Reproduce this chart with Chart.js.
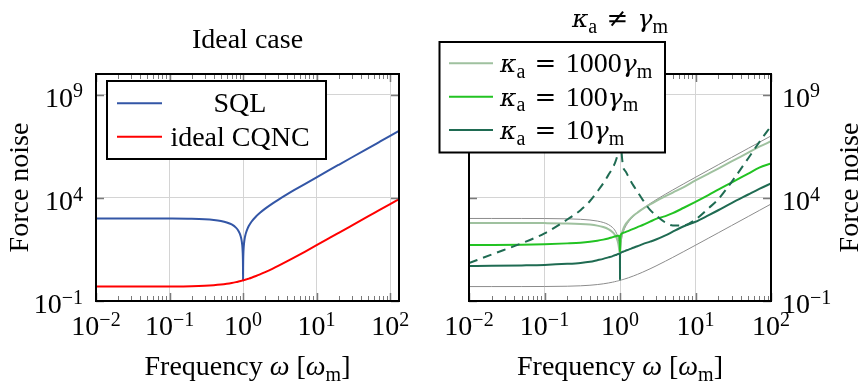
<!DOCTYPE html>
<html>
<head>
<meta charset="utf-8">
<script src="https://cdn.jsdelivr.net/npm/chart.js@4.4.0/dist/chart.umd.min.js"></script>
<style>
  html, body { margin: 0; padding: 0; background: #fff; }
  #wrap { position: relative; width: 860px; height: 387px; overflow: hidden; }
  canvas { position: absolute; top: 0; }
  #left { left: 0; }
  #right { left: 430px; }
</style>
</head>
<body>
<div id="wrap">
  <canvas id="left" width="430" height="387"></canvas>
  <canvas id="right" width="430" height="387"></canvas>
</div>
<script>
// frequency in units of omega_m
const freqIdeal = [0.01, 0.02, 0.05, 0.1, 0.2, 0.3, 0.4, 0.5, 0.6, 0.7,
  0.8, 0.85, 0.9, 0.93, 0.95, 0.97, 0.98, 0.99, 0.995, 0.998,
  1, 1.002, 1.005, 1.01, 1.02, 1.03, 1.05, 1.07, 1.1, 1.15,
  1.2, 1.3, 1.5, 1.7, 2, 2.5, 3, 4, 5, 7,
  10, 15, 20, 30, 50, 70, 100, 132];
const freq = [0.01, 0.02, 0.05, 0.1, 0.2, 0.3, 0.4, 0.5, 0.6, 0.7,
  0.8, 0.85, 0.9, 0.93, 0.95, 0.97, 0.98, 0.99, 0.995, 0.998,
  1, 1.002, 1.005, 1.01, 1.02, 1.03, 1.05, 1.07, 1.1, 1.15,
  1.2, 1.3, 1.5, 1.7, 2, 2.5, 3, 4, 5, 7,
  10, 15, 20, 30, 50, 70, 100];

const sqlNoise = [1000, 1000, 997, 990, 960, 910, 840, 750, 640, 510,
  360, 278, 190, 135, 97.5, 59.1, 39.6, 19.9, 10, 4.1,
  1, 4.1, 10, 20.1, 40.4, 60.9, 102.5, 145, 210, 323,
  440, 690, 1250, 1890, 3000, 5250, 8000, 15000, 24000, 48000,
  99000, 224000, 399000, 899000, 2499000, 4899000, 9999000, 17420000];
const cqncNoise = [0.5, 0.5, 0.501, 0.505, 0.52, 0.545, 0.58, 0.625, 0.68, 0.745,
  0.82, 0.861, 0.905, 0.932, 0.951, 0.97, 0.98, 0.99, 0.995, 0.998,
  1.0, 1.002, 1.005, 1.01, 1.02, 1.03, 1.051, 1.072, 1.105, 1.161,
  1.22, 1.345, 1.625, 1.945, 2.5, 3.625, 5, 8.5, 13, 25,
  50.5, 113, 200.5, 450.5, 1250, 2450, 5000, 8712];

const kappa1000 = [600, 600, 598, 594, 576, 546, 504, 450, 384, 306,
  216, 167, 114, 81, 59, 37, 27, 22, 20, 20,
  20, 20, 21, 30, 60, 95, 160, 220, 300, 430,
  560, 800, 1350, 1900, 2900, 4800, 7000, 12000, 18000, 33000,
  70000, 150000, 260000, 580000, 1550000, 3000000, 5500000];
const kappa100 = [52, 52, 53, 56, 62, 67, 74, 83, 94, 107,
  124, 133, 142, 146, 147, 140, 120, 80, 50, 32,
  25, 32, 60, 100, 150, 170, 185, 192, 200, 212,
  225, 250, 310, 380, 480, 700, 950, 1300, 1800, 3300,
  6400, 14000, 25000, 55000, 150000, 290000, 460000];
const kappa10 = [5.0, 5.05, 5.3, 5.6, 6.3, 7.0, 8.0, 9.5, 11, 13,
  15, 16.5, 17.5, 18.5, 19, 19.5, 19.7, 19.8, 19.9, 19.9,
  1.05, 21, 21, 21.2, 21.5, 21.8, 23, 23.8, 24.5, 26,
  28, 31, 38, 45, 57, 75, 95, 150, 230, 420,
  690, 1450, 2500, 5600, 14500, 27000, 50000];
const kappa10Dashed = [6.8, 18, 63, 190, 890, 2500, 7000, 20000, 50000, 126000,
  280000, 450000, 800000, 1300000, 2000000, 4000000, 8000000, 20000000, 50000000, 150000000,
  3000000000, 150000000, 50000000, 20000000, 7000000, 4000000, 1600000, 700000, 320000, 220000,
  180000, 100000, 40000, 20000, 8000, 2600, 1400, 630, 460, 460,
  890, 3200, 8500, 58000, 830000, 5000000, 30000000];

const xTickExp = [-2, -1, 0, 1, 2];
const yTickExp = [-1, 4, 9];

const FONT = '"Liberation Serif", "Times New Roman", serif';
const GREEK = '"DejaVu Serif", serif';
const BIG = 28;
const GRID = '#d4d4d4', TICK = '#7a7a7a';

const pts = (xs, ys) => xs.map((x, i) => ({ x: x, y: ys[i] }));

// draws a run of text pieces: [text, style] with style n / i / g / op / sup / sub
function drawRich(ctx, parts, x, y, align, size) {
  size = size || BIG;
  const small = Math.round(size * 0.72);
  let w = 0;
  const items = parts.map(([t, s]) => {
    let font;
    if (s === 'g') font = 'italic ' + Math.round(size * 0.9) + 'px ' + GREEK;
    else if (s === 'op') font = Math.round(size * 0.92) + 'px ' + GREEK;
    else if (s === 'sup' || s === 'sub') font = small + 'px ' + FONT;
    else font = (s === 'i' ? 'italic ' : '') + size + 'px ' + FONT;
    ctx.font = font;
    const width = ctx.measureText(t).width;
    w += width;
    return { t, font, width, dy: s === 'sup' ? -size * 0.33 : s === 'sub' ? size * 0.2 : 0 };
  });
  let cx = align === 'center' ? x - w / 2 : align === 'right' ? x - w : x;
  ctx.textBaseline = 'alphabetic';
  ctx.textAlign = 'left';
  items.forEach(it => { ctx.font = it.font; ctx.fillText(it.t, cx, y + it.dy); cx += it.width; });
}

const pow = e => [['10', 'n'], [(e < 0 ? '\u2212' + (-e) : '' + e), 'sup']];

function line(ctx, x1, y1, x2, y2) {
  ctx.beginPath(); ctx.moveTo(x1, y1); ctx.lineTo(x2, y2); ctx.stroke();
}

const panelPlugin = {
  id: 'panel',
  afterDatasetsDraw(chart, args, opts) {
    const ctx = chart.ctx, a = chart.chartArea;
    const xs = chart.scales.x, ys = chart.scales.y;
    ctx.save();
    ctx.strokeStyle = TICK;
    for (let e = -2; e <= 2; e++) {
      for (let k = 1; k <= 9; k++) {
        const v = k * Math.pow(10, e);
        if (v < xs.min * 0.999 || v > xs.max * 1.001) continue;
        const px = Math.round(xs.getPixelForValue(v)) + 0.5;
        const len = k === 1 ? 8 : 5;
        ctx.lineWidth = k === 1 ? 1.5 : 1;
        line(ctx, px, a.bottom, px, a.bottom - len);
        line(ctx, px, a.top, px, a.top + len);
      }
    }
    ctx.lineWidth = 1.5;
    yTickExp.forEach(e => {
      const py = Math.round(ys.getPixelForValue(Math.pow(10, e))) + 0.5;
      line(ctx, a.left, py, a.left + 8, py);
      line(ctx, a.right, py, a.right - 8, py);
    });
    ctx.strokeStyle = '#000';
    ctx.lineWidth = 2;
    ctx.strokeRect(a.left, a.top, a.right - a.left, a.bottom - a.top);

    ctx.fillStyle = '#000';
    // x tick labels
    xTickExp.forEach(e => {
      const px = xs.getPixelForValue(Math.pow(10, e));
      drawRich(ctx, pow(e), px, 335, 'center');
    });
    // y tick labels
    yTickExp.forEach(e => {
      const py = ys.getPixelForValue(Math.pow(10, e));
      if (opts.side === 'left') drawRich(ctx, pow(e), a.left - 13, py + 12, 'right');
      else drawRich(ctx, pow(e), a.right + 11, py + 12, 'left');
    });
    // axis titles
    drawRich(ctx, [['Frequency ', 'n'], ['\u03c9', 'i'], [' [', 'n'], ['\u03c9', 'i'], ['m', 'sub'], [']', 'n']],
      (a.left + a.right) / 2, 375, 'center');
    ctx.save();
    ctx.translate(opts.side === 'left' ? 28 : 428, (a.top + a.bottom) / 2);
    ctx.rotate(-Math.PI / 2);
    drawRich(ctx, [['Force noise', 'n']], 0, 0, 'center');
    ctx.restore();
    // panel title
    drawRich(ctx, opts.title, (a.left + a.right) / 2, opts.titleY, 'center');

    // legend
    const lg = opts.legend;
    ctx.fillStyle = '#fff';
    ctx.fillRect(lg.x, lg.y, lg.w, lg.h);
    ctx.strokeStyle = '#000';
    ctx.lineWidth = 2;
    ctx.strokeRect(lg.x, lg.y, lg.w, lg.h);
    lg.items.forEach((it, i) => {
      const ly = lg.firstY + i * 33.4;
      ctx.strokeStyle = it.color;
      ctx.lineWidth = it.width;
      line(ctx, lg.lineX1, ly, lg.lineX2, ly);
      ctx.fillStyle = '#000';
      drawRich(ctx, it.text, lg.textX, ly + 9, lg.align);
    });
    ctx.restore();
  }
};

function logAxis(min, max, ticks, isX) {
  return {
    type: 'logarithmic',
    min: min,
    max: max,
    afterBuildTicks: s => { s.ticks = ticks.map(e => ({ value: Math.pow(10, e) })); },
    afterFit: s => { if (isX) s.height = 0; else s.width = 0; },
    ticks: { display: false },
    grid: { color: GRID, lineWidth: 1, drawTicks: false },
    border: { display: false }
  };
}

function baseOptions(pad, xmax, panel) {
  return {
    responsive: false,
    animation: false,
    devicePixelRatio: 1,
    layout: { padding: pad },
    elements: { point: { radius: 0 }, line: { cubicInterpolationMode: 'monotone' } },
    scales: {
      x: logAxis(0.01, xmax, xTickExp, true),
      y: logAxis(0.1, 1e10, yTickExp, false)
    },
    plugins: { legend: { display: false }, tooltip: { enabled: false }, panel: panel }
  };
}

new Chart(document.getElementById('left'), {
  type: 'line',
  data: {
    datasets: [
      { label: 'SQL', data: pts(freqIdeal, sqlNoise), borderColor: '#3356a6', borderWidth: 2, order: 2 },
      { label: 'ideal CQNC', data: pts(freqIdeal, cqncNoise), borderColor: '#ff0000', borderWidth: 2, order: 1 }
    ]
  },
  options: baseOptions({ left: 96, right: 31, top: 74, bottom: 86 }, 132, {
    side: 'left',
    title: [['Ideal case', 'n']],
    titleY: 48,
    legend: {
      x: 107, y: 81, w: 219, h: 78, firstY: 103.3, lineX1: 117, lineX2: 162, textX: 240, align: 'center',
      items: [
        { color: '#3356a6', width: 2, text: [['SQL', 'n']] },
        { color: '#ff0000', width: 2, text: [['ideal CQNC', 'n']] }
      ]
    }
  }),
  plugins: [panelPlugin]
});

const kLabel = n => [['\u03ba', 'g'], ['a', 'sub'], ['\u2004', 'n'], ['=', 'op'], ['\u2004' + n, 'n'], ['\u03b3', 'g'], ['m', 'sub']];

new Chart(document.getElementById('right'), {
  type: 'line',
  data: {
    datasets: [
      { label: 'SQL', data: pts(freqIdeal, sqlNoise), borderColor: '#8c8c8c', borderWidth: 1, order: 6 },
      { label: 'ideal CQNC', data: pts(freqIdeal, cqncNoise), borderColor: '#8c8c8c', borderWidth: 1, order: 5 },
      { label: 'kappa 1000', data: pts(freq, kappa1000), borderColor: '#9fc19f', borderWidth: 2, order: 4 },
      { label: 'kappa 100', data: pts(freq, kappa100), borderColor: '#22c322', borderWidth: 2, order: 3 },
      { label: 'kappa 10', data: pts(freq, kappa10), borderColor: '#1f6b52', borderWidth: 2, order: 2 },
      { label: 'kappa 10 dashed', data: pts(freq, kappa10Dashed), borderColor: '#1f6b52', borderWidth: 2, borderDash: [9, 6], order: 1 }
    ]
  },
  options: baseOptions({ left: 39, right: 89, top: 74, bottom: 86 }, 100, {
    side: 'right',
    title: [['\u03ba', 'g'], ['a', 'sub'], ['\u2004', 'n'], ['\u2260', 'op'], ['\u2004', 'n'], ['\u03b3', 'g'], ['m', 'sub']],
    titleY: 27,
    legend: {
      x: 9.5, y: 42, w: 225.5, h: 110.5, firstY: 63.3, lineX1: 19, lineX2: 63, textX: 70, align: 'left',
      items: [
        { color: '#9fc19f', width: 2, text: kLabel('1000') },
        { color: '#22c322', width: 2, text: kLabel('100') },
        { color: '#1f6b52', width: 2, text: kLabel('10') }
      ]
    }
  }),
  plugins: [panelPlugin]
});
</script>
</body>
</html>
